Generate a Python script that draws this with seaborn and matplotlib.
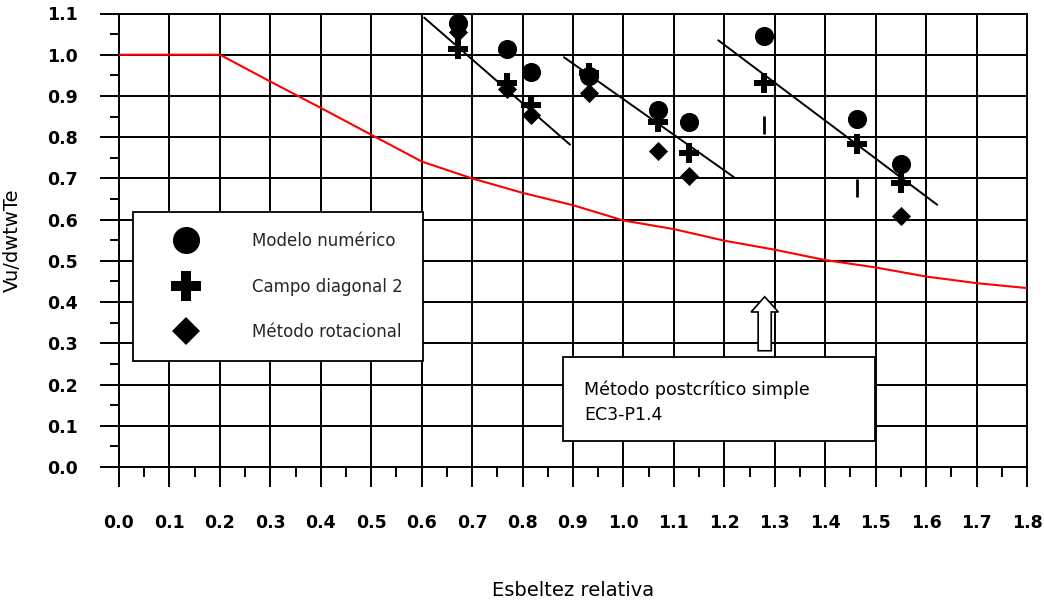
import numpy as np
import pandas as pd
import matplotlib
matplotlib.use("Agg")
import matplotlib.pyplot as plt
from matplotlib.lines import Line2D
from matplotlib.patches import Rectangle, FancyArrow
from matplotlib.ticker import MultipleLocator, FormatStrFormatter
import seaborn as sns

# Relative slenderness of each tested panel
esbeltez = [0.672, 0.770, 0.817, 0.932, 1.068, 1.130, 1.278, 1.463, 1.551]
modelo_numerico = [1.078, 1.014, 0.958, 0.948, 0.867, 0.836, 1.046, 0.845, 0.736]
campo_diagonal = [1.014, 0.932, 0.878, 0.956, 0.836, 0.762, 0.931, 0.784, 0.690]

esbeltez_rot = [0.672, 0.770, 0.817, 0.932, 1.068, 1.130, 1.551]
metodo_rotacional = [1.055, 0.918, 0.855, 0.906, 0.766, 0.705, 0.609]

# Short vertical marks for the two rotational-method cases
esbeltez_marca = [1.278, 1.463]
valor_marca = [0.830, 0.677]

# Simple post-critical method curve (EC3-P1.4)
curva_lambda = [0.0, 0.1, 0.2, 0.3, 0.4, 0.5, 0.6, 0.7, 0.8, 0.9,
                1.0, 1.1, 1.2, 1.3, 1.4, 1.5, 1.6, 1.7, 1.8]
curva_valor = [1.000, 1.000, 1.000, 0.935, 0.871, 0.806, 0.741, 0.700, 0.665,
               0.635, 0.598, 0.577, 0.549, 0.527, 0.502, 0.484, 0.462, 0.446, 0.434]

# Trend lines through each group (start / end points)
tendencia_x = [[0.605, 0.894], [0.882, 1.219], [1.188, 1.622]]
tendencia_y = [[1.090, 0.782], [0.994, 0.703], [1.035, 0.636]]

series_labels = ["Modelo numérico", "Campo diagonal 2", "Método rotacional"]

sns.set_theme(style="white")
plt.rcParams["font.family"] = ["DejaVu Sans"]

fig = plt.figure(figsize=(10.44, 6.05), dpi=100)
ax = fig.add_axes([119 / 1044, 1 - 467 / 605, 908 / 1044, 453.5 / 605])

grid_lw = 1.4

# Red design curve
sns.lineplot(x=curva_lambda, y=curva_valor, ax=ax, color="#ff0000",
             linewidth=1.5, zorder=3, legend=False)

# Trend lines
for tx, ty in zip(tendencia_x, tendencia_y):
    sns.lineplot(x=tx, y=ty, ax=ax, color="black", linewidth=1.4,
                 zorder=3, legend=False)

df_mod = pd.DataFrame({"x": esbeltez, "y": modelo_numerico})
df_cam = pd.DataFrame({"x": esbeltez, "y": campo_diagonal})
df_rot = pd.DataFrame({"x": esbeltez_rot, "y": metodo_rotacional})
df_mar = pd.DataFrame({"x": esbeltez_marca, "y": valor_marca})

sns.scatterplot(data=df_mod, x="x", y="y", ax=ax, marker="o", s=190,
                color="black", edgecolor="black", linewidth=0, zorder=4,
                legend=False)
sns.scatterplot(data=df_cam, x="x", y="y", ax=ax, marker="P", s=200,
                color="black", edgecolor="black", linewidth=0, zorder=5,
                legend=False)
sns.scatterplot(data=df_rot, x="x", y="y", ax=ax, marker="D", s=95,
                color="black", edgecolor="black", linewidth=0, zorder=5,
                legend=False)
sns.scatterplot(data=df_mar, x="x", y="y", ax=ax, marker="|", s=150,
                color="black", linewidth=2, zorder=5, legend=False)

ax.set_xlim(0, 1.8)
ax.set_ylim(0, 1.1)
ax.xaxis.set_major_locator(MultipleLocator(0.1))
ax.yaxis.set_major_locator(MultipleLocator(0.1))
ax.xaxis.set_minor_locator(MultipleLocator(0.05))
ax.yaxis.set_minor_locator(MultipleLocator(0.05))
ax.xaxis.set_major_formatter(FormatStrFormatter("%.1f"))
ax.yaxis.set_major_formatter(FormatStrFormatter("%.1f"))

ax.grid(True, which="major", color="black", linewidth=grid_lw)
ax.set_axisbelow(True)
for sp in ax.spines.values():
    sp.set_visible(True)
    sp.set_color("black")
    sp.set_linewidth(grid_lw)

ax.tick_params(axis="x", which="major", direction="out", length=14.5,
               width=grid_lw, color="black", pad=19, labelsize=12.5)
ax.tick_params(axis="x", which="minor", direction="out", length=7.2,
               width=grid_lw, color="black")
ax.tick_params(axis="y", which="major", direction="out", length=13.7,
               width=grid_lw, color="black", pad=16, labelsize=12.5)
ax.tick_params(axis="y", which="minor", direction="out", length=6.5,
               width=grid_lw, color="black")
ax.tick_params(bottom=True, left=True, which="both")
for lab in ax.get_xticklabels() + ax.get_yticklabels():
    lab.set_fontweight("bold")
    lab.set_color("black")

ax.set_xlabel("Esbeltez relativa", fontsize=14, color="black")
ax.set_ylabel("Vu/dwtwTe", fontsize=14, color="black")
ax.xaxis.label.set_va("center")
ax.yaxis.label.set_va("center")
ax.xaxis.set_label_coords(0.5, -0.273)
ax.yaxis.set_label_coords(-0.117, 0.5)

# Legend with enlarged symbols
handles = [
    Line2D([], [], linestyle="none", marker="o", markersize=19.5,
           color="black", markeredgewidth=0),
    Line2D([], [], linestyle="none", marker="P", markersize=21,
           color="black", markeredgewidth=0),
    Line2D([], [], linestyle="none", marker="D", markersize=14.5,
           color="black", markeredgewidth=0),
]
leg = ax.legend(handles, series_labels, loc="upper left",
                bbox_to_anchor=((133 - 119) / 908, (467 - 212) / 453.5),
                fontsize=12, frameon=True, fancybox=False, framealpha=1,
                borderpad=1.2, handlelength=3.96, handletextpad=2.0,
                labelspacing=1.65, borderaxespad=0)
leg.get_frame().set_edgecolor("black")
leg.get_frame().set_linewidth(1.3)
leg.set_zorder(10)

# Note box for the design curve
caja_x, caja_y, caja_w, caja_h = 0.881, 0.063, 0.618, 0.203
ax.add_patch(Rectangle((caja_x, caja_y), caja_w, caja_h, facecolor="white",
                       edgecolor="black", linewidth=1.3, zorder=8))
ax.text(0.922, 0.187, "Método postcrítico simple", fontsize=12.5,
        ha="left", va="center", color="black", zorder=9)
ax.text(0.922, 0.126, "EC3-P1.4", fontsize=12.5,
        ha="left", va="center", color="black", zorder=9)

# Hollow arrow pointing to the curve
flecha_x, flecha_y0, flecha_y1 = 1.280, 0.282, 0.413
ax.add_patch(FancyArrow(flecha_x, flecha_y0, 0, flecha_y1 - flecha_y0,
                        width=0.026, head_width=0.054, head_length=0.037,
                        length_includes_head=True, facecolor="white",
                        edgecolor="black", linewidth=1.2, zorder=8))

fig.savefig("out.png", dpi=100, facecolor="white")
